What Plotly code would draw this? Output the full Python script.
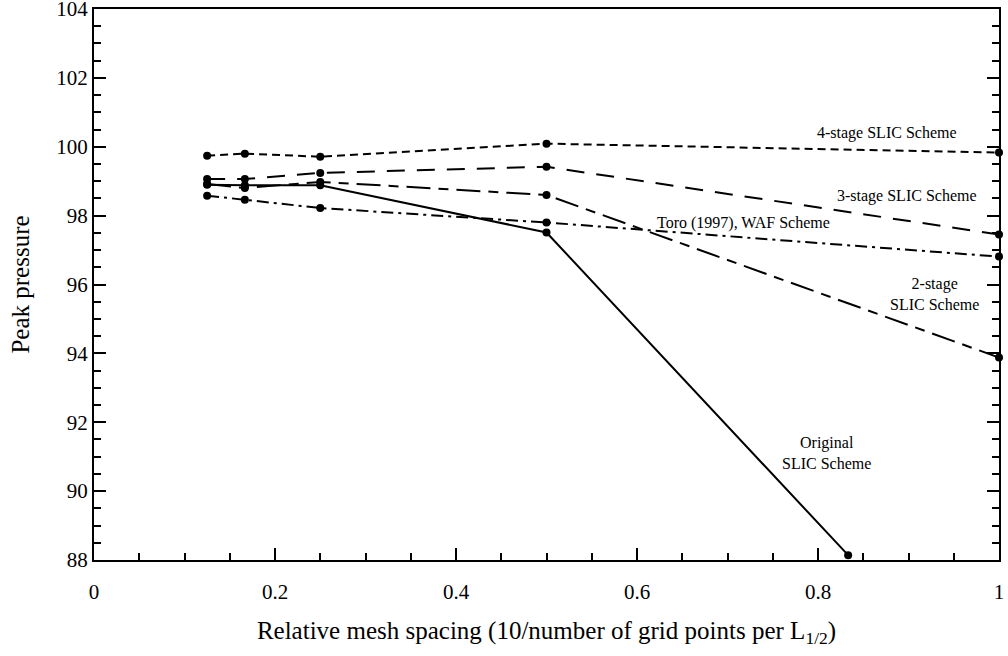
import plotly.graph_objects as go

# Relative mesh spacing (10 / number of grid points per L1/2)
x_fine = [0.125, 0.1667, 0.25, 0.5, 1.0]
x_orig = [0.125, 0.1667, 0.25, 0.5, 0.8333]

# Peak pressure for each scheme
p_4stage = [99.74, 99.80, 99.71, 100.09, 99.83]
p_3stage = [99.06, 99.06, 99.24, 99.42, 97.45]
p_2stage = [98.92, 98.80, 98.98, 98.60, 93.88]
p_waf = [98.58, 98.46, 98.22, 97.80, 96.81]
p_orig = [98.90, 98.88, 98.88, 97.51, 88.14]

FONT = "Liberation Serif"

series = [
    (x_fine, p_4stage, "8px,5px"),
    (x_fine, p_3stage, "18px,12px"),
    (x_fine, p_waf, "12px,5px,3px,5px"),
    (x_fine, p_2stage, "24px,8px,10px,8px"),
    (x_orig, p_orig, "solid"),
]

fig = go.Figure()
for xs, ys, dash in series:
    fig.add_trace(go.Scatter(
        x=xs, y=ys, mode="lines+markers",
        line=dict(color="black", width=2, dash=dash),
        marker=dict(color="black", size=8),
        showlegend=False, cliponaxis=False,
    ))

labels = [
    (0.876, 100.40, "4-stage SLIC Scheme"),
    (0.898, 98.57, "3-stage SLIC Scheme"),
    (0.718, 97.79, "Toro (1997), WAF Scheme"),
    (0.929, 95.72, "2-stage<br>SLIC Scheme"),
    (0.809, 91.12, "Original<br>SLIC Scheme"),
]
for lx, ly, txt in labels:
    fig.add_annotation(x=lx, y=ly, text=txt, showarrow=False,
                       font=dict(family=FONT, size=16, color="black"))

axis_common = dict(
    showline=True, linecolor="black", linewidth=2,
    ticks="inside", ticklen=12, tickwidth=2, tickcolor="black",
    showgrid=False, zeroline=False, automargin=False,
    ticklabeloverflow="allow",
    tickfont=dict(family=FONT, size=21, color="black"),
)

fig.update_xaxes(
    range=[0, 1], mirror=True, ticklabelstandoff=12,
    minor=dict(dtick=0.05, ticks="inside", ticklen=7, tickwidth=2, tickcolor="black"),
    title=dict(text="Relative mesh spacing (10/number of grid points per L<sub>1/2</sub>)",
               font=dict(family=FONT, size=25, color="black"), standoff=18),
    tickvals=[0, 0.2, 0.4, 0.6, 0.8, 1.0],
    ticktext=["0", "0.2", "0.4", "0.6", "0.8", "1"],
    **axis_common,
)
fig.update_yaxes(
    range=[88, 104], dtick=2, tick0=88, mirror="allticks",
    minor=dict(dtick=0.5, ticks="inside", ticklen=7, tickwidth=2, tickcolor="black"),
    title=dict(text="Peak pressure", font=dict(family=FONT, size=25, color="black"), standoff=20),
    **axis_common,
)

fig.update_layout(
    width=1008, height=656,
    margin=dict(l=94, r=9, t=9, b=96),
    paper_bgcolor="white", plot_bgcolor="white",
    font=dict(family=FONT, color="black"),
)

fig.write_html("out.html")
